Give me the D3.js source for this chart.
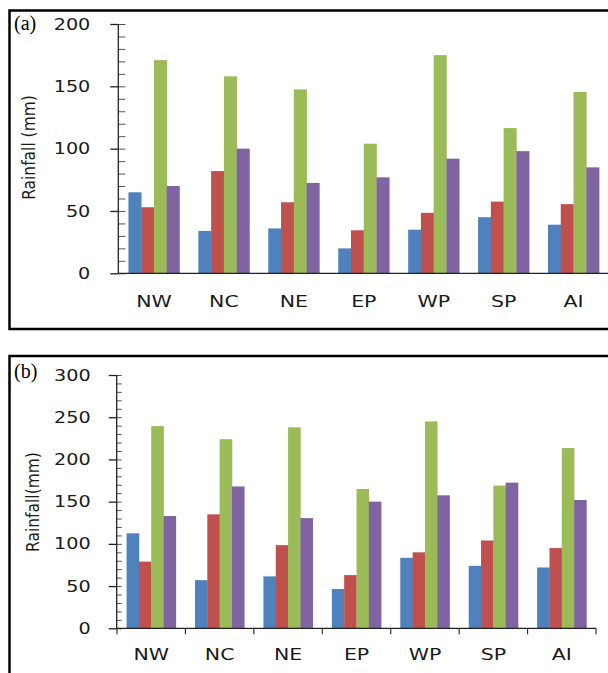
<!DOCTYPE html>
<html>
<head>
<meta charset="utf-8">
<script src="https://cdn.jsdelivr.net/npm/d3@7"></script>
<style>
  html, body { margin: 0; padding: 0; background: #fff; }
  svg { display: block; }
</style>
</head>
<body>
<svg id="chart" width="608" height="673"></svg>
<script>
// ---- data ----
const categories = ["NW", "NC", "NE", "EP", "WP", "SP", "AI"];
const seriesColors = ["#4F81BD", "#C0504D", "#9BBB59", "#8064A2"];

const panelA_s1 = [65, 34, 36, 20, 35, 45, 39];
const panelA_s2 = [53, 82, 57, 34.5, 48.5, 57.5, 55.5];
const panelA_s3 = [171, 158, 147.5, 104, 175, 116.5, 145.5];
const panelA_s4 = [70, 100, 72.5, 77, 92, 98, 85];

const panelB_s1 = [112.5, 57, 61.5, 46.5, 83.5, 74, 72];
const panelB_s2 = [79, 135, 98.5, 63, 90, 104, 95];
const panelB_s3 = [239.5, 224, 238, 165, 245, 169, 213.5];
const panelB_s4 = [133, 168, 130.5, 150, 157.5, 172.5, 152];

const panelA_ticks = [0, 50, 100, 150, 200];
const panelB_ticks = [0, 50, 100, 150, 200, 250, 300];

const svg = d3.select("#chart");

function drawPanel(cfg) {
  const g = svg.append("g");
  // frame
  g.append("rect")
    .attr("x", cfg.box[0]).attr("y", cfg.box[1])
    .attr("width", cfg.box[2]).attr("height", cfg.box[3])
    .attr("fill", "#fff").attr("stroke", "#000").attr("stroke-width", 2.5);

  const y = d3.scaleLinear().domain([0, cfg.ymax]).range([cfg.y0, cfg.y1]);
  const x = d3.scaleBand().domain(categories).range(cfg.xr)
    .paddingInner(cfg.pad).paddingOuter(cfg.pad / 2);
  const xs = d3.scaleBand().domain(d3.range(4)).range([0, x.bandwidth()]);

  const series = [cfg.s1, cfg.s2, cfg.s3, cfg.s4];

  // bars
  series.forEach((vals, si) => {
    g.append("g").selectAll("rect").data(vals).join("rect")
      .attr("x", (d, i) => x(categories[i]) + xs(si))
      .attr("width", xs.bandwidth() + 0.3)
      .attr("y", d => y(d))
      .attr("height", d => y(0) - y(d))
      .attr("fill", seriesColors[si]);
  });

  // y axis minor ticks (inside)
  const minor = d3.range(0, cfg.ymax + 1, 10);
  g.append("g").attr("transform", `translate(${cfg.axisX},0)`)
    .call(d3.axisRight(y).tickValues(minor).tickSize(cfg.minorLen).tickFormat(""))
    .call(a => a.select(".domain").remove())
    .call(a => a.selectAll("line").attr("stroke", "#555").attr("stroke-width", 1));

  // y axis major
  const ya = g.append("g").attr("transform", `translate(${cfg.axisX},0)`)
    .call(d3.axisLeft(y).tickValues(cfg.ticks).tickSize(8).tickSizeOuter(0).tickPadding(cfg.labPad));
  ya.select(".domain").attr("stroke", "#222").attr("stroke-width", 1.3).attr("d", `M0,${y(0)}V${y(cfg.ymax)}`);
  ya.selectAll("line").attr("stroke", "#222").attr("stroke-width", 1.3);
  ya.selectAll("text")
    .attr("font-family", "DejaVu Sans").attr("font-size", 16).attr("fill", "#1a1a1a")
    .each(function() {
      const t = d3.select(this);
      const tx = +t.attr("x");
      t.attr("x", 0).attr("transform", `translate(${tx},0) scale(1.2,1)`);
    });

  // x axis line
  g.append("line")
    .attr("x1", cfg.axisX).attr("x2", cfg.xAxisEnd)
    .attr("y1", y(0)).attr("y2", y(0))
    .attr("stroke", "#222").attr("stroke-width", 1.3);

  // category boundary ticks
  if (cfg.catTicks) {
    const step = x.step();
    const bounds = d3.range(categories.length + 1).map(i => cfg.xr[0] + i * step);
    g.append("g").selectAll("line").data(bounds).join("line")
      .attr("x1", d => d).attr("x2", d => d)
      .attr("y1", y(0)).attr("y2", y(0) + 6)
      .attr("stroke", "#333").attr("stroke-width", 1.2);
  }

  // category labels
  const xa = g.append("g").attr("transform", `translate(0,${y(0)})`)
    .call(d3.axisBottom(x).tickSize(0).tickPadding(cfg.catPad));
  xa.select(".domain").remove();
  xa.selectAll("text")
    .attr("font-family", "DejaVu Sans").attr("font-size", 16).attr("fill", "#1a1a1a")
    .each(function() {
      const t = d3.select(this);
      const ty = +t.attr("y");
      t.attr("y", 0).attr("transform", `translate(0,${ty}) scale(1.28,1)`);
    });

  // y title
  g.append("text")
    .attr("transform", `translate(${cfg.titleX},${cfg.titleY}) rotate(-90) scale(1,1.12)`)
    .attr("text-anchor", "middle")
    .attr("font-family", "DejaVu Sans").attr("font-size", 15.5).attr("fill", "#1a1a1a")
    .text(cfg.title);

  // panel letter
  g.append("text")
    .attr("x", cfg.letterX).attr("y", cfg.letterY)
    .attr("font-family", "Liberation Serif").attr("font-size", 20).attr("fill", "#000")
    .text(cfg.letter);
}

drawPanel({
  box: [9.5, 10.5, 620, 318.5],
  ymax: 200, y0: 273.3, y1: 24,
  xr: [119, 608.5], pad: 0.27,
  s1: panelA_s1, s2: panelA_s2, s3: panelA_s3, s4: panelA_s4,
  ticks: panelA_ticks,
  axisX: 118.3, xAxisEnd: 608, minorLen: 7, labPad: 20,
  catTicks: false, catPad: 22,
  title: "Rainfall (mm)", titleX: 35, titleY: 147.5,
  letter: "(a)", letterX: 14, letterY: 30
});

drawPanel({
  box: [9.5, 356, 620, 340],
  ymax: 300, y0: 628.3, y1: 375,
  xr: [117, 596], pad: 0.28,
  s1: panelB_s1, s2: panelB_s2, s3: panelB_s3, s4: panelB_s4,
  ticks: panelB_ticks,
  axisX: 116.7, xAxisEnd: 596, minorLen: 5, labPad: 18,
  catTicks: true, catPad: 20,
  title: "Rainfall(mm)", titleX: 39, titleY: 502,
  letter: "(b)", letterX: 14, letterY: 378
});
</script>
</body>
</html>
